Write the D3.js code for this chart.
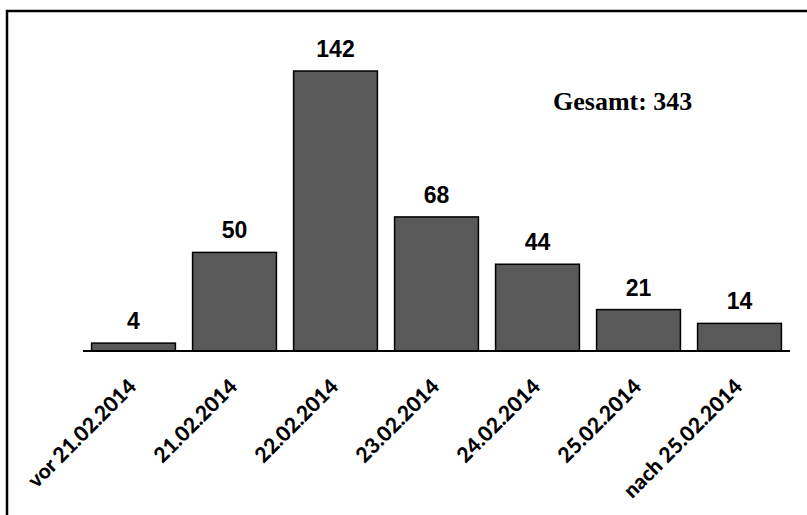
<!DOCTYPE html>
<html><head><meta charset="utf-8">
<script src="https://cdn.jsdelivr.net/npm/d3@7"></script>
<style>body{margin:0;background:#fff}svg{display:block}</style>
</head><body>
<script>
const categories = ["vor 21.02.2014","21.02.2014","22.02.2014","23.02.2014","24.02.2014","25.02.2014","nach 25.02.2014"];
const values = [4,50,142,68,44,21,14];
const totalLabel = "Gesamt: 343";

const W=807,H=515;
const svg=d3.select("body").append("svg").attr("width",W).attr("height",H);
// frame
svg.append("path").attr("d","M7,"+(H+5)+"V11H"+(W+5)).attr("fill","none").attr("stroke","#000").attr("stroke-width",2.5);

const x=d3.scaleBand().domain(categories).range([83,790]).paddingInner(0.17).paddingOuter(0.085);
const baseY=351;
const y=d3.scaleLinear().domain([0,142]).range([baseY,71]);

svg.selectAll("rect.bar").data(values).enter().append("rect")
 .attr("x",(d,i)=>x(categories[i])).attr("width",x.bandwidth())
 .attr("y",d=>y(d)).attr("height",d=>baseY-y(d))
 .attr("fill","#595959").attr("stroke","#000").attr("stroke-width",1.5);

svg.append("line").attr("x1",83).attr("x2",790).attr("y1",baseY).attr("y2",baseY).attr("stroke","#000").attr("stroke-width",2);

svg.selectAll("text.val").data(values).enter().append("text")
 .attr("x",(d,i)=>x(categories[i])+x.bandwidth()/2).attr("y",d=>y(d)-14)
 .attr("text-anchor","middle").attr("font-family","Liberation Sans, Arial").attr("font-weight","bold").attr("font-size",23)
 .text(d=>d);

svg.selectAll("text.cat").data(categories).enter().append("text")
 .attr("transform",(d)=>"translate("+(x(d)+x.bandwidth()/2+4)+",388) rotate(-45)")
 .attr("text-anchor","end").attr("font-family","Lato, Open Sans").attr("font-weight","900").attr("font-size",21)
 .text(d=>d);

svg.append("text").attr("x",553).attr("y",110).attr("font-family","Liberation Serif, serif").attr("font-weight","bold").attr("font-size",26).text(totalLabel);
</script>
</body></html>
